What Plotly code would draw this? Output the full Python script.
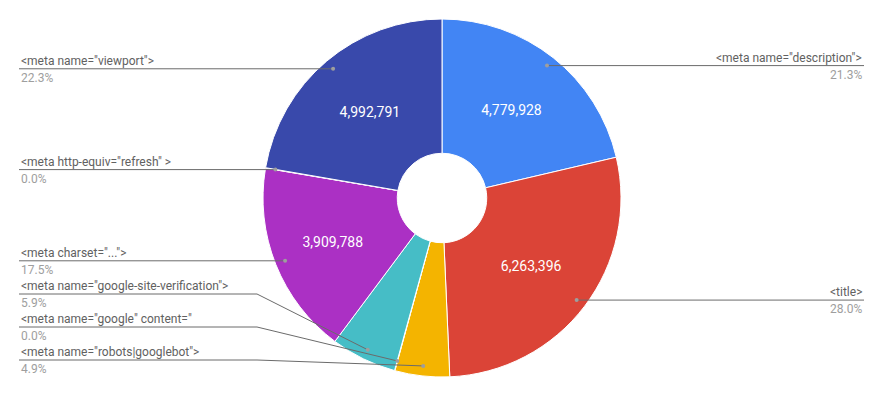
import math
import plotly.graph_objects as go

# page body has an 8px margin; figure is drawn 8px in from the window edge
OFF = 8
W, H = 884 - 2 * OFF, 397 - 2 * OFF

# ---- data (clockwise from 12 o'clock) ----
labels = [
    '<meta name="description">',
    '<title>',
    '<meta name="robots|googlebot">',
    '<meta name="google" content="',
    '<meta name="google-site-verification">',
    '<meta charset="...">',
    '<meta http-equiv="refresh" >',
    '<meta name="viewport">',
]
values = [4779928, 6263396, 1105000, 7000, 1330000, 3909788, 9000, 4992791]
colors = ['#4285F4', '#DB4437', '#F4B400', '#0F9D58', '#46BDC6', '#AB30C4', '#FF7043', '#3949AB']

# ---- layout geometry (window pixels) ----
CX, CY, R = 442, 198, 179
HOLE = 0.25
DOT_R = 0.944 * R
LEFT_X, RIGHT_X = 19, 864
ELBOW = 6
GAP = 33
Y_MIN, Y_MAX = 30, 360

total = sum(values)
pcts = [v / total * 100 for v in values]
texts = [f"{v:,}" if p >= 10 else "" for v, p in zip(values, pcts)]


def px(x):
    return (x - OFF) / W


def py(y):
    return 1 - (y - OFF) / H


fig = go.Figure(go.Pie(
    labels=labels, values=values, sort=False, direction='clockwise', rotation=0,
    hole=HOLE, marker=dict(colors=colors, line=dict(color='white', width=1)),
    text=texts, texttemplate='%{text}', textposition='inside',
    insidetextorientation='horizontal',
    textfont=dict(family='Roboto', size=14, color='white'),
    domain=dict(x=[px(CX - R), px(CX + R)], y=[py(CY + R), py(CY - R)]),
    showlegend=False, hoverinfo='label+value+percent',
))

# dot positions from slice mid-angles
items = []
cum = 0.0
for lab, v, p in zip(labels, values, pcts):
    mid = (cum + v / 2) / total * 2 * math.pi
    cum += v
    dx = CX + DOT_R * math.sin(mid)
    dy = CY - DOT_R * math.cos(mid)
    items.append(dict(label=lab, pct=p, dx=dx, dy=dy, side='L' if dx < CX else 'R'))

# resolve label y positions per side
for side in ('L', 'R'):
    grp = sorted([it for it in items if it['side'] == side], key=lambda it: it['dy'])
    prev = None
    for it in reversed(grp):
        y = min(it['dy'], Y_MAX)
        if prev is not None:
            y = min(y, prev - GAP)
        it['ly'] = y
        prev = y
    prev = None
    for it in grp:
        if prev is not None and it['ly'] < prev + GAP:
            it['ly'] = prev + GAP
        it['ly'] = max(it['ly'], Y_MIN)
        prev = it['ly']

shapes, annotations = [], []
for it in items:
    ly = it['ly']
    if it['side'] == 'L':
        x0, xe, anchor = LEFT_X, CX - R - ELBOW, 'left'
    else:
        x0, xe, anchor = RIGHT_X, CX + R + ELBOW, 'right'
    path = f"M {px(x0)} {py(ly)} L {px(xe)} {py(ly)} L {px(it['dx'])} {py(it['dy'])}"
    shapes.append(dict(type='path', xref='paper', yref='paper', path=path,
                       line=dict(color='#6b6b6b', width=1)))
    shapes.append(dict(type='circle', xref='paper', yref='paper',
                       x0=px(it['dx'] - 2), x1=px(it['dx'] + 2),
                       y0=py(it['dy'] + 2), y1=py(it['dy'] - 2),
                       fillcolor='#9e9e9e', line=dict(width=0)))
    annotations.append(dict(x=px(x0), y=py(ly - 8), xref='paper', yref='paper',
                            text=it['label'].replace('<', '&lt;').replace('>', '&gt;'),
                            showarrow=False, xanchor=anchor, yanchor='middle',
                            font=dict(family='Roboto', size=12, color='#616161')))
    annotations.append(dict(x=px(x0), y=py(ly + 9), xref='paper', yref='paper',
                            text=f"{it['pct']:.1f}%", showarrow=False,
                            xanchor=anchor, yanchor='middle',
                            font=dict(family='Roboto', size=12, color='#9e9e9e')))

fig.update_layout(
    width=W, height=H, margin=dict(l=0, r=0, t=0, b=0),
    paper_bgcolor='white', plot_bgcolor='white',
    shapes=shapes, annotations=annotations,
)

fig.write_html("out.html")
